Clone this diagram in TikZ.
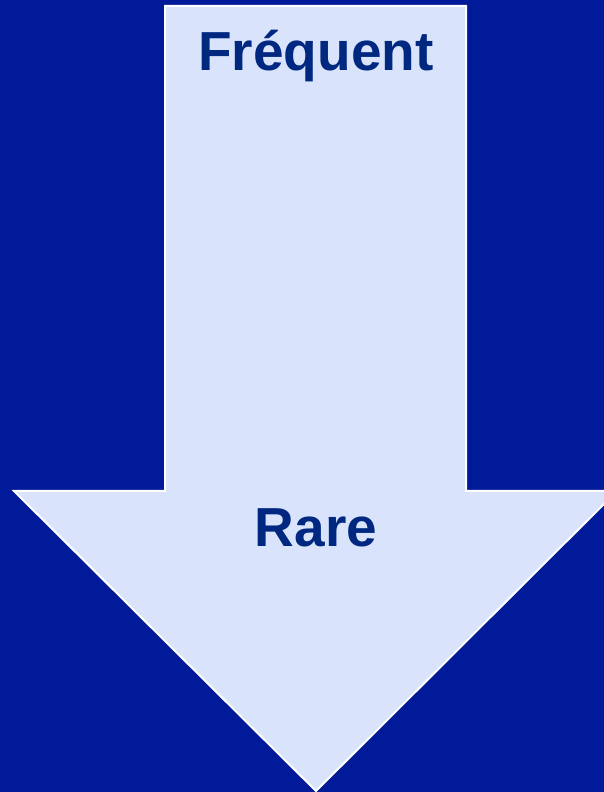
\documentclass[tikz,border=0pt]{standalone}
\usepackage{fontspec}
\setmainfont{Liberation Sans}
\usepackage{tikz}
\definecolor{bgblue}{RGB}{0,26,153}
\definecolor{arrowfill}{RGB}{217,228,252}
\definecolor{labelblue}{RGB}{0,40,128}

\begin{document}
\begin{tikzpicture}[
  x=1pt, y=1pt,
  bigarrow/.style={draw=white, line width=2pt, fill=arrowfill, line join=miter},
  lbl/.style={font=\fontsize{55}{60}\selectfont\bfseries, text=labelblue, anchor=base, inner sep=0pt},
]
% background
\fill[bgblue] (0,0) rectangle (604,792);
\useasboundingbox (0,0) rectangle (604,792);
% downward arrow
\draw[bigarrow] (165,786) -- (466,786) -- (466,301) -- (617,301) -- (316,1)
  -- (14,301) -- (165,301) -- cycle;
% labels
\node[lbl] (freq) at (316,721) {Fréquent};
\node[lbl] (rare) at (316,245) {Rare};
\end{tikzpicture}
\end{document}
